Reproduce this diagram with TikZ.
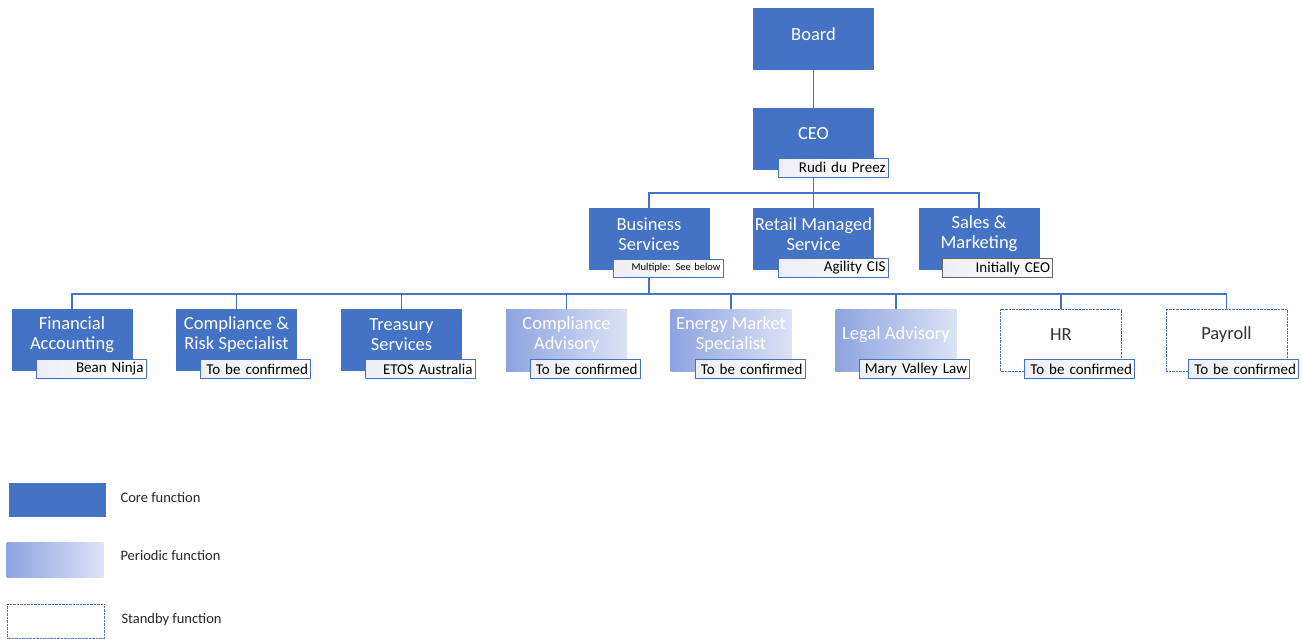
\documentclass[tikz,border=0pt]{standalone}
\usepackage{fontspec}
\setmainfont{Carlito}
\pgfdeclarelayer{background}
\pgfsetlayers{background,main}
\definecolor{coreblue}{HTML}{4472C4}
\definecolor{perA}{HTML}{8EA3E0}
\definecolor{perB}{HTML}{DCE3F5}
\definecolor{labgray}{HTML}{EEEEF3}
\begin{document}
\begin{tikzpicture}[x=1pt,y=-1pt,
  box/.style={minimum width=121pt,minimum height=62pt,inner sep=1pt},
  bt/.style={align=center,font=\fontsize{18.5}{20}\selectfont,yshift=5pt,inner sep=0pt},
  core/.style={box,fill=coreblue},
  periodic/.style={box,left color=perA,right color=perB},
  standby/.style={box,draw=coreblue,densely dotted,fill=white},
  wt/.style={bt,text=white},
  kt/.style={bt,text=black!80},
  lab/.style={draw=coreblue,line width=0.9pt,left color=labgray,right color=white,minimum width=110pt,minimum height=19pt,text width=105pt,align=right,inner sep=2pt,font=\fontsize{15}{16}\selectfont,text=black},
  conn/.style={draw=coreblue,line width=1.2pt},
  legtext/.style={anchor=west,font=\fontsize{14.5}{16}\selectfont,text=black!85}]
\useasboundingbox (0,0) rectangle (1302,638);
% top
\node[core,label={[wt]center:Board}] (board) at (813.5,39) {};
\node[core,label={[wt]center:CEO}] (ceo) at (813.5,139) {};
\node[lab] (ceol) at (833,167.5) {Rudi du Preez};
% second row
\node[core,label={[wt]center:Business\\Services}] (bs) at (649,239) {};
\node[lab,font=\fontsize{10.5}{12}\selectfont,minimum height=18pt] (bsl) at (668,268) {Multiple: See below};
\node[core,label={[wt]center:Retail Managed\\Service}] (rms) at (813.5,239) {};
\node[lab] (rmsl) at (833,268) {Agility CIS};
\node[core,label={[wt]center:Sales \&\\Marketing}] (sm) at (979,239) {};
\node[lab,draw=black!60] (sml) at (997.5,268) {Initially CEO};
% bottom row
\node[core,label={[wt]center:Financial\\Accounting}] (fa) at (72,340) {};
\node[lab] (fal) at (91,369) {Bean Ninja};
\node[core,label={[wt]center:Compliance \&\\Risk Specialist}] (crs) at (236.5,340) {};
\node[lab] (crsl) at (255.5,369) {To be confirmed};
\node[core,label={[wt]center:Treasury\\Services}] (ts) at (401.5,340) {};
\node[lab] (tsl) at (420,369) {ETOS Australia};
\node[periodic,label={[wt]center:Compliance\\Advisory}] (ca) at (566.5,340) {};
\node[lab] (cal) at (585,369) {To be confirmed};
\node[periodic,label={[wt]center:Energy Market\\Specialist}] (ems) at (731,340) {};
\node[lab] (emsl) at (750,369) {To be confirmed};
\node[periodic,label={[wt]center:Legal Advisory}] (la) at (896,340) {};
\node[lab] (lal) at (914.5,369) {Mary Valley Law};
\node[standby,label={[kt]center:HR}] (hr) at (1061,340) {};
\node[lab] (hrl) at (1079.5,369) {To be confirmed};
\node[standby,label={[kt]center:Payroll}] (pay) at (1226.5,340) {};
\node[lab] (payl) at (1243.5,369) {To be confirmed};
% connectors
\coordinate (busA) at (813.5,193);
\coordinate (busB) at (649,294);
\begin{pgfonlayer}{background}
\draw[conn] (board.south) -- (ceo.north);
\draw[conn] (ceo.south) -- (busA);
\draw[conn] (bs.north) |- (busA) -| (sm.north);
\draw[conn] (rms.north) -- (rms.north |- busA);
\draw[conn] (bs.south) -- (busB);
\draw[conn] (fa.north) |- (busB) -| (pay.north);
\foreach \n in {crs,ts,ca,ems,la,hr}{\draw[conn] (\n.north) -- (\n.north |- busB);}
\end{pgfonlayer}
% legend
\node[fill=coreblue,minimum width=97pt,minimum height=34pt,inner sep=0pt] (lcore) at (57,500) {};
\node[legtext] (tcore) at (117,498) {Core function};
\node[left color=perA,right color=perB,minimum width=97pt,minimum height=35pt,inner sep=0pt] (lper) at (55,559.5) {};
\node[legtext] (tper) at (117,556) {Periodic function};
\node[draw=coreblue,densely dotted,minimum width=97pt,minimum height=34pt,inner sep=0pt] (lsb) at (56,621) {};
\node[legtext] (tsb) at (118,620) {Standby function};
\end{tikzpicture}
\end{document}
